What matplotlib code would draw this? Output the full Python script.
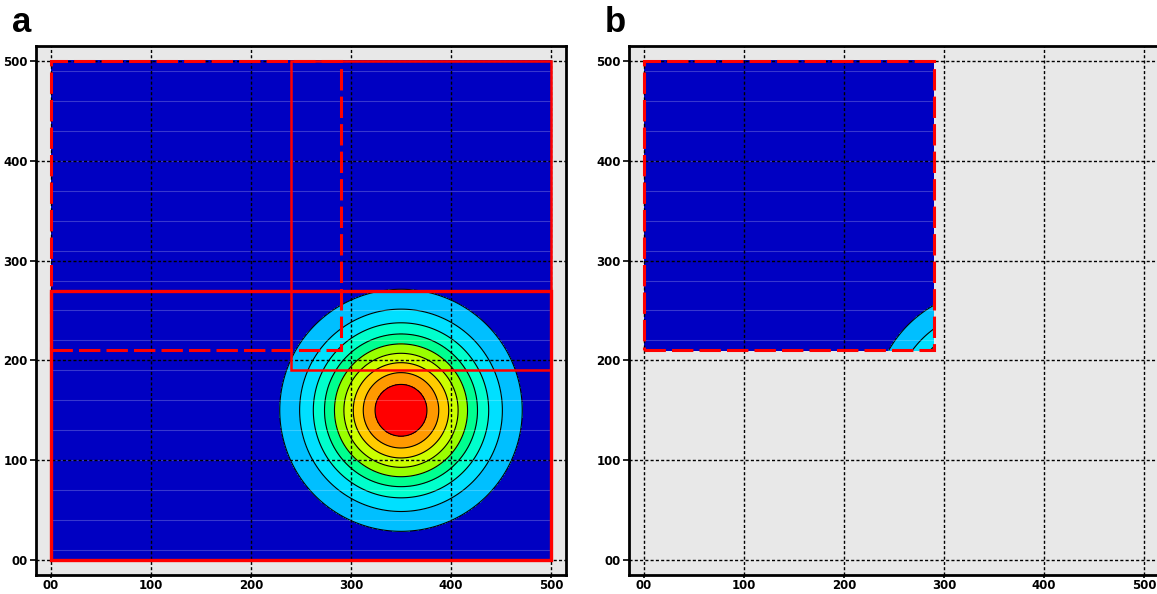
import numpy as np
import matplotlib
matplotlib.use("Agg")
import matplotlib.pyplot as plt
import matplotlib.patches as patches

# --- data ---
domain = (0, 500, 0, 500)            # xmin, xmax, ymin, ymax of panel a
subdomain = (0, 290, 210, 500)       # panel b window
peak_center = (350, 150)
peak_sigma = 56.5
levels = [-1, 0.1, 0.2, 0.3, 0.4, 0.5, 0.6, 0.7, 0.8, 0.9, 1.01]
line_levels = [0.1, 0.2, 0.3, 0.4, 0.5, 0.6, 0.7, 0.8, 0.9]
fill_colors = ['#0000c2', '#00bfff', '#00e0ff', '#00ffcc', '#00ff90',
               '#99ff00', '#ccff00', '#ffcc00', '#ff9900', '#ff0000']
band_rows = list(range(10, 500, 30))          # faint horizontal seams
ticks = [0, 100, 200, 300, 400, 500]
tick_labels = ['00', '100', '200', '300', '400', '500']

# red outlines: (x0, y0, x1, y1, linestyle, linewidth)
dash = (0, (7, 2))
outlines_a = [
    (0, 0, 500, 270, 'solid', 2.4),
    (240, 190, 500, 500, 'solid', 1.8),
    (0, 210, 290, 500, dash, 2.2),
]
outlines_b = [
    (0, 210, 290, 500, dash, 2.2),
]


def field(x0, x1, y0, y1):
    x = np.linspace(x0, x1, int(x1 - x0) + 1)
    y = np.linspace(y0, y1, int(y1 - y0) + 1)
    X, Y = np.meshgrid(x, y)
    r2 = (X - peak_center[0]) ** 2 + (Y - peak_center[1]) ** 2
    return X, Y, np.exp(-r2 / (2 * peak_sigma ** 2))


def draw_panel(ax, box, outlines, label):
    ax.set_facecolor('#e8e8e8')
    X, Y, Z = field(*box)
    ax.contourf(X, Y, Z, levels=levels, colors=fill_colors, zorder=1)
    ax.contour(X, Y, Z, levels=line_levels, colors='black', linewidths=0.8, zorder=2)
    for yb in band_rows:
        if box[2] < yb < box[3]:
            ax.plot([box[0], box[1]], [yb, yb], color='white', alpha=0.22, lw=0.8, zorder=2.5)

    ax.grid(True, color='black', linestyle=(0, (2.2, 1.6)), linewidth=1.0, zorder=3)
    ax.set_axisbelow(False)

    for x0, y0, x1, y1, ls, lw in outlines:
        rect = patches.Rectangle((x0, y0), x1 - x0, y1 - y0, fill=False,
                                 edgecolor='red', linewidth=lw, linestyle=ls, zorder=4)
        ax.add_patch(rect)

    ax.set_xlim(-15, 515)
    ax.set_ylim(-15, 515)
    ax.set_xticks(ticks)
    ax.set_yticks(ticks)
    ax.set_xticklabels(tick_labels)
    ax.set_yticklabels(tick_labels)
    ax.tick_params(axis='y', length=4, width=1.2, pad=2, labelsize=8.5)
    ax.tick_params(axis='x', length=2, width=1.2, pad=1, labelsize=8.5)
    for t in ax.get_xticklabels() + ax.get_yticklabels():
        t.set_fontweight('bold')
    for s in ax.spines.values():
        s.set_linewidth(2)
        s.set_color('black')
    ax.text(-0.046, 1.045, label, transform=ax.transAxes, fontsize=25,
            fontweight='bold', family='Liberation Sans', va='center', ha='left')


W, H = 1157, 594
fig = plt.figure(figsize=(W / 100, H / 100), dpi=100)
ax_a = fig.add_axes([36 / W, 19 / H, 530 / W, 529 / H])
ax_b = fig.add_axes([629 / W, 19 / H, 530 / W, 529 / H])

draw_panel(ax_a, domain, outlines_a, 'a')
draw_panel(ax_b, subdomain, outlines_b, 'b')

fig.savefig('out.png', dpi=100)
